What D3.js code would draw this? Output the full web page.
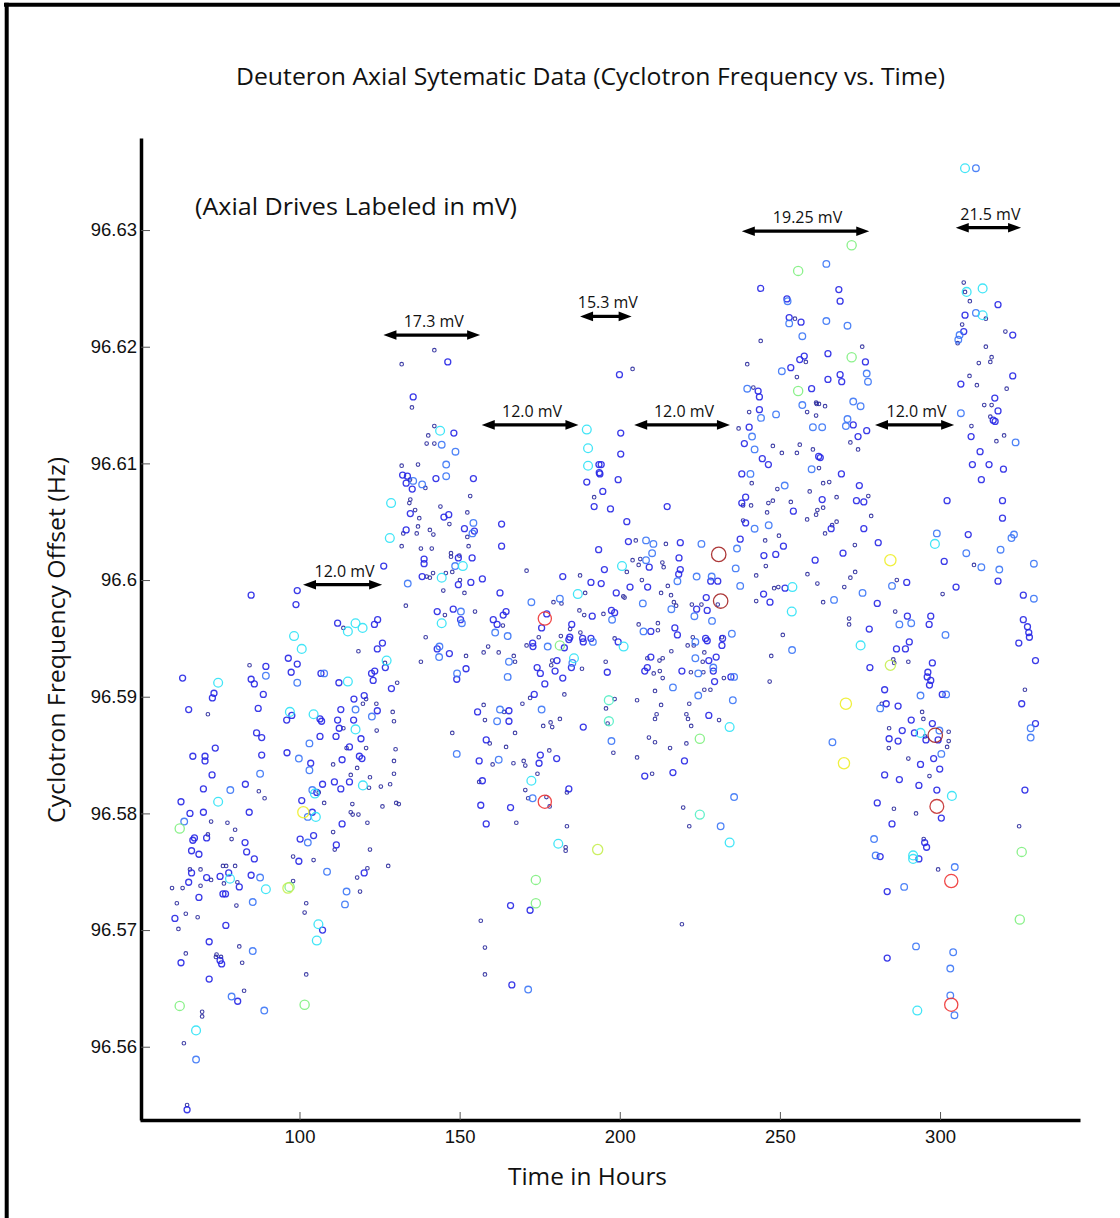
<!DOCTYPE html>
<html><head><meta charset="utf-8">
<script src="https://cdn.jsdelivr.net/npm/d3@7/dist/d3.min.js"></script>
<style>html,body{margin:0;padding:0;background:#fff;}svg{display:block;}</style>
</head><body>
<svg id="chart" width="1120" height="1218"></svg>
<script>
// ---------- text ----------
const chartTitle = "Deuteron Axial Sytematic Data (Cyclotron Frequency vs. Time)";
const subTitle = "(Axial Drives Labeled in mV)";
const xLabel = "Time in Hours";
const yLabel = "Cyclotron Frequency Offset (Hz)";

// ---------- axes ----------
const xTicks = [100, 150, 200, 250, 300];
const xTickLabels = ["100", "150", "200", "250", "300"];
const yTicks = [96.56, 96.57, 96.58, 96.59, 96.60, 96.61, 96.62, 96.63];
const yTickLabels = ["96.56", "96.57", "96.58", "96.59", "96.6", "96.61", "96.62", "96.63"];
const xDomain = [50.2, 343.7];
const yDomain = [96.55372, 96.63789];

// ---------- axial drive annotations ----------
const driveLabels = ["12.0 mV", "17.3 mV", "12.0 mV", "15.3 mV", "12.0 mV", "19.25 mV", "12.0 mV", "21.5 mV"];
const driveStart = [101.1, 126.2, 156.9, 187.6, 204.5, 238.1, 279.7, 304.9];
const driveEnd = [125.8, 156.4, 187.1, 203.7, 234.4, 277.9, 304.4, 325.3];
const driveLevel = [96.5996, 96.6210, 96.6133, 96.6226, 96.6133, 96.6299, 96.6133, 96.6302];

// ---------- data: [hours, frequency (Hz)] grouped by weight level ----------
const level1Pts = [
[113.7,96.5959],[118.4,96.5939],[84.4,96.5927],[71.4,96.5885],[113.7,96.5873],[120.8,96.5898],[124.1,96.5871],[119.8,96.5894],[114.7,96.5856],[120.8,96.5856],[110.5,96.5842],[118.0,96.5839],[116.0,96.5833],[122.0,96.5831],[87.3,96.5819],[89.1,96.5813],[72.4,96.5793],[77.5,96.5792],[79.9,96.5786],[71.4,96.5782],[78.8,96.5778],[65.8,96.5752],[69.1,96.5752],[60.2,96.5736],[63.5,96.5736],[69.1,96.5738],[72.4,96.5743],[76.1,96.5755],[77.1,96.5755],[79.9,96.5755],[76.4,96.5740],[80.6,96.5741],[80.3,96.5721],[61.7,96.5723],[64.5,96.5714],[68.2,96.5711],[62.2,96.5701],[64.5,96.5680],[74.1,96.5679],[75.5,96.5677],[73.9,96.5677],[81.2,96.5686],[82.1,96.5672],[82.7,96.5648],[69.6,96.5630],[69.6,96.5626],[63.9,96.5603],[64.9,96.5550],[107.7,96.5809],[106.0,96.5818],[121.7,96.5822],[116.5,96.5808],[116.0,96.5801],[116.6,96.5799],[118.4,96.5799],[121.2,96.5792],[110.5,96.5784],[111.0,96.5769],[122.0,96.5769],[98.0,96.5763],[104.4,96.5760],[121.2,96.5753],[118.0,96.5745],[98.0,96.5742],[118.9,96.5733],[102.1,96.5723],[101.6,96.5715],[102.1,96.5662],
[142.1,96.6197],[131.9,96.6185],[135.1,96.6148],[142.1,96.6132],[140.2,96.6124],[139.7,96.6117],[142.1,96.6117],[131.9,96.6098],[137.0,96.6099],[134.5,96.6086],[139.3,96.6079],[153.3,96.6072],[134.6,96.6069],[134.3,96.6066],[136.1,96.6060],[137.4,96.6053],[137.0,96.6046],[144.0,96.6063],[146.8,96.6048],[152.4,96.6058],[132.4,96.6040],[136.6,96.6040],[140.7,96.6043],[141.8,96.6039],[131.9,96.6029],[137.9,96.6027],[141.3,96.6027],[152.4,96.6037],[152.8,96.6029],[147.3,96.6023],[147.3,96.6020],[149.9,96.6021],[139.7,96.6003],[140.7,96.6002],[141.7,96.6006],[145.7,96.6006],[147.7,96.6007],[150.1,96.6000],[144.9,96.5991],[151.5,96.5989],[170.9,96.6008],[187.6,96.6004],[179.3,96.5981],[181.8,96.5980],[189.2,96.5989],[133.2,96.5978],[145.4,96.5970],[154.8,96.5973],[163.5,96.5961],[139.4,96.5951],[181.6,96.5952],[184.5,96.5958],[187.4,96.5974],[188.9,96.5970],[187.7,96.5955],[174.7,96.5951],[192.0,96.6071],
[126.7,96.5929],[130.5,96.5912],[137.9,96.5930],[152.0,96.5935],[157.5,96.5938],[158.9,96.5943],[162.2,96.5938],[166.9,96.5935],[167.3,96.5930],[170.9,96.5944],[178.6,96.5927],[178.9,96.5931],[188.2,96.5924],[172.0,96.5899],[182.7,96.5902],[124.0,96.5894],[129.1,96.5887],[129.5,96.5879],[147.7,96.5869],[157.5,96.5893],[157.9,96.5880],[163.9,96.5887],[169.6,96.5894],[167.3,96.5869],[176.1,96.5875],[178.4,96.5878],[178.9,96.5874],[181.3,96.5881],[159.4,96.5860],[164.5,96.5857],[130.0,96.5855],[129.5,96.5845],[129.5,96.5834],[160.3,96.5842],[166.8,96.5843],[170.0,96.5845],[170.5,96.5841],[178.0,96.5854],[174.3,96.5834],[125.4,96.5823],[128.3,96.5825],[125.9,96.5806],[130.2,96.5809],[131.0,96.5808],[156.1,96.5827],[170.5,96.5820],[171.4,96.5813],[177.1,96.5814],[178.1,96.5806],[183.5,96.5818],[167.7,96.5792],[183.5,96.5789],[183.1,96.5771],[183.1,96.5768],[127.7,96.5755],[156.6,96.5708],[157.9,96.5685],[157.9,96.5662],
[254.7,96.6224],[244.0,96.6205],[258.1,96.6187],[239.8,96.6185],[255.3,96.6174],[241.7,96.6165],[240.4,96.6144],[258.5,96.6144],[261.5,96.6151],[237.1,96.6130],[247.8,96.6115],[250.6,96.6109],[255.3,96.6109],[256.2,96.6116],[260.3,96.6112],[241.2,96.6083],[249.2,96.6078],[259.3,96.6076],[241.0,96.6064],[238.5,96.6064],[247.8,96.6068],[246.4,96.6066],[253.4,96.6067],[246.0,96.6058],[238.5,96.6051],[258.5,96.6052],[261.3,96.6056],[261.7,96.6060],[204.0,96.6181],[201.1,96.5986],[205.0,96.6034],[204.0,96.6017],[205.9,96.6013],[206.4,96.6018],[202.2,96.6007],[206.9,96.6000],[214.4,96.6031],[213.3,96.6015],[213.7,96.6011],[215.0,96.5995],[212.9,96.5989],[216.0,96.5987],[216.9,96.5981],[217.6,96.5978],[201.5,96.5985],[194.9,96.5971],[225.5,96.5979],[222.5,96.5979],[230.6,96.5979],[205.9,96.5962],[211.9,96.5963],[211.9,96.5957],[222.8,96.5951],[198.4,96.5950],[249.7,96.6038],[245.4,96.6034],[245.6,96.6012],[242.6,96.6004],[248.2,96.5993],[249.5,96.5994],[242.6,96.5982],[250.9,96.5953],[258.6,96.6005],[261.7,96.5997],
[231.9,96.5951],[221.2,96.5944],[223.1,96.5944],[216.1,96.5939],[208.6,96.5933],[212.4,96.5931],[213.4,96.5933],[226.4,96.5938],[225.9,96.5930],[195.6,96.5930],[210.6,96.5920],[212.5,96.5922],[213.4,96.5916],[222.2,96.5921],[226.1,96.5921],[232.5,96.5916],[247.3,96.5935],[246.8,96.5913],[211.0,96.5905],[226.4,96.5906],[228.3,96.5906],[198.4,96.5898],[195.7,96.5890],[205.4,96.5897],[212.9,96.5893],[221.7,96.5894],[196.2,96.5877],[211.5,96.5885],[211.0,96.5881],[220.8,96.5885],[221.3,96.5881],[222.3,96.5875],[231.0,96.5880],[198.0,96.5852],[205.4,96.5848],[209.1,96.5865],[211.0,96.5861],[215.7,96.5856],[220.8,96.5860],[210.1,96.5834],[219.8,96.5805],[221.7,96.5789],[219.4,96.5705],
[275.7,96.6200],[261.3,96.6152],[262.2,96.6151],[264.1,96.6149],[261.3,96.6141],[272.0,96.6118],[274.4,96.6112],[262.2,96.6096],[263.5,96.6083],[265.4,96.6084],[267.7,96.6071],[277.6,96.6072],[263.5,96.6062],[278.5,96.6055],[267.7,96.6050],[266.3,96.6047],[264.1,96.6040],[273.4,96.6030],[273.5,96.6007],[272.0,96.6002],[270.1,96.5994],[263.5,96.5981],[286.5,96.6000],[271.6,96.5967],[271.6,96.5962],[286.0,96.5973],[300.8,96.5988],[307.4,96.6255],[307.8,96.6247],[309.3,96.6239],[314.3,96.6224],[306.9,96.6219],[305.5,96.6203],[320.4,96.6213],[314.3,96.6200],[316.1,96.6191],[315.7,96.6187],[312.1,96.6186],[309.2,96.6175],[311.5,96.6167],[320.8,96.6164],[313.8,96.6150],[316.1,96.6150],[315.7,96.6140],[309.8,96.6132],[320.0,96.6124],[317.6,96.6119],[310.6,96.6013],
[285.4,96.5932],[285.7,96.5929],[290.1,96.5930],[281.8,96.5894],[294.4,96.5887],[294.8,96.5881],[284.1,96.5873],[295.3,96.5866],[302.7,96.5870],[302.7,96.5862],[302.2,96.5857],[284.0,96.5856],[290.1,96.5847],[296.7,96.5832],[285.6,96.5804],[292.5,96.5800],[294.9,96.5778],[299.4,96.5752],[326.5,96.5906],[324.7,96.5789]
];
const level2Pts = [
[84.9,96.5987],[99.3,96.5991],[98.9,96.5979],[111.9,96.5963],[123.4,96.5962],[124.4,96.5966],
[124.3,96.5941],[63.5,96.5916],[89.5,96.5926],[84.9,96.5915],[85.9,96.5911],[96.5,96.5933],[99.3,96.5928],[97.4,96.5921],[106.7,96.5920],[112.3,96.5912],[122.5,96.5920],[123.0,96.5914],[73.3,96.5903],[72.8,96.5899],[88.7,96.5902],[65.4,96.5889],[87.1,96.5890],[96.0,96.5880],[97.6,96.5884],[106.4,96.5881],[106.9,96.5879],[112.9,96.5889],[111.9,96.5880],[112.4,96.5873],[117.0,96.5898],[120.2,96.5901],[116.9,96.5880],[124.3,96.5888],[86.6,96.5869],[88.2,96.5865],[73.7,96.5856],[66.7,96.5849],[70.5,96.5849],[70.5,96.5845],[88.2,96.5850],[106.4,96.5866],[111.4,96.5866],[115.6,96.5857],[119.2,96.5864],[96.1,96.5852],[103.5,96.5843],[113.3,96.5846],[118.7,96.5849],[119.5,96.5847],[72.7,96.5833],[70.0,96.5821],[83.1,96.5825],[63.0,96.5810],[65.8,96.5800],[70.0,96.5801],[84.3,96.5801],[67.2,96.5779],[66.7,96.5777],[71.0,96.5779],[83.0,96.5775],[66.3,96.5768],[68.6,96.5765],[83.5,96.5767],[85.9,96.5761],[66.3,96.5749],[65.4,96.5741],[68.6,96.5728],[71.0,96.5745],[75.2,96.5746],[77.9,96.5749],[81.2,96.5737],[76.1,96.5731],[76.9,96.5731],[84.9,96.5747],[61.1,96.5710],[77.0,96.5704],[71.8,96.5690],[63.0,96.5672],[75.2,96.5674],[75.7,96.5671],[71.8,96.5658],[80.7,96.5639],[64.9,96.5546],[104.0,96.5801],[100.7,96.5811],[105.4,96.5818],[107.2,96.5825],[110.9,96.5827],[115.6,96.5827],[112.9,96.5821],[113.3,96.5791],[100.2,96.5778],[104.4,96.5781],[111.5,96.5773],[99.8,96.5759],[120.2,96.5749],[107.2,96.5700],
[146.3,96.6187],[135.5,96.6157],[148.2,96.6126],[132.2,96.6090],[133.7,96.6089],[133.3,96.6083],[135.2,96.6078],[142.6,96.6087],[154.3,96.6087],[134.6,96.6057],[145.1,96.6054],[146.6,96.6056],[154.6,96.6042],[151.5,96.6044],[163.1,96.6048],[163.1,96.6029],[133.3,96.6043],[138.9,96.6018],[138.9,96.6014],[149.6,96.6019],[153.9,96.6019],[126.3,96.6012],[138.3,96.6003],[149.6,96.5996],[153.5,96.5998],[157.1,96.6001],[162.6,96.5989],[182.2,96.6003],[191.0,96.5998],[177.2,96.5971],[175.6,96.5959],[143.0,96.5973],[148.0,96.5975],[150.3,96.5966],[163.6,96.5970],[164.5,96.5973],[160.5,96.5966],[161.7,96.5962],[184.4,96.5951],[185.0,96.5962],[191.4,96.5969],[188.4,96.5950],[191.0,96.5950],[189.7,96.6084],[192.0,96.6063],[193.5,96.6099],[193.6,96.6092],[193.4,96.6026],
[125.9,96.5946],[126.8,96.5925],[123.5,96.5922],[128.7,96.5907],[143.0,96.5941],[146.8,96.5937],[149.1,96.5915],[152.0,96.5924],[172.8,96.5946],[172.9,96.5943],[184.1,96.5949],[182.7,96.5942],[188.6,96.5947],[174.2,96.5925],[175.2,96.5920],[180.4,96.5931],[179.8,96.5922],[182.2,96.5916],[184.9,96.5925],[176.6,96.5911],[173.3,96.5902],[155.6,96.5887],[165.4,96.5888],[165.4,96.5879],[188.6,96.5874],[158.3,96.5863],[156.1,96.5845],[175.2,96.5850],[174.8,96.5843],[180.3,96.5847],[157.1,96.5828],[156.6,96.5807],[165.9,96.5805],[184.1,96.5821],[158.3,96.5791],[165.9,96.5721],[172.0,96.5717],[166.3,96.5653],
[244.0,96.6250],[252.2,96.6241],[252.9,96.6225],[256.6,96.6221],[257.6,96.6192],[256.2,96.6189],[253.4,96.6182],[259.9,96.6164],[243.2,96.6162],[243.6,96.6157],[243.6,96.6146],[240.4,96.6131],[238.9,96.6117],[262.1,96.6106],[244.5,96.6104],[246.4,96.6099],[238.1,96.6091],[239.3,96.6071],[238.1,96.6066],[254.2,96.6059],[239.3,96.6049],[199.9,96.6176],[200.3,96.6126],[200.3,96.6108],[194.2,96.6099],[193.8,96.6091],[199.5,96.6086],[194.7,96.6076],[197.1,96.6061],[202.2,96.6050],[214.8,96.6063],[195.2,96.6009],[194.2,96.5997],[198.9,96.5989],[202.7,96.6033],[209.2,96.6011],[203.2,96.5994],[208.7,96.5994],[218.9,96.6032],[218.5,96.6019],[218.9,96.6009],[218.4,96.6005],[197.4,96.5974],[198.4,96.5972],[228.4,96.5999],[230.6,96.5999],[227.0,96.5985],[224.0,96.5975],[227.3,96.5974],[237.6,96.6035],[209.7,96.5956],[217.2,96.5959],[218.0,96.5953],[226.8,96.5950],[232.1,96.5950],[245.0,96.6021],[248.7,96.6022],[251.1,96.6029],[244.9,96.5988],[246.9,96.5981],[251.6,96.5993],[261.0,96.6017],
[199.5,96.5947],[227.3,96.5948],[231.9,96.5944],[209.7,96.5934],[227.8,96.5931],[230.1,96.5934],[229.2,96.5922],[196.1,96.5921],[208.6,96.5925],[207.8,96.5922],[219.4,96.5922],[229.6,96.5913],[234.7,96.5917],[227.8,96.5884],[220.2,96.5845],[207.8,96.5832],[216.6,96.5835],
[268.4,96.6249],[268.8,96.6239],[265.0,96.6194],[276.7,96.6187],[265.0,96.6172],[268.8,96.6176],[269.3,96.6170],[272.9,96.6133],[274.4,96.6123],[277.1,96.6128],[262.6,96.6105],[269.2,96.6091],[274.8,96.6081],[263.2,96.6069],[273.9,96.6068],[276.2,96.6067],[266.0,96.6044],[276.2,96.6044],[280.7,96.6032],[269.7,96.6023],[280.4,96.5980],[289.6,96.5998],[277.9,96.5958],[289.8,96.5969],[297.1,96.5969],[296.6,96.5962],[302.2,96.6068],[301.3,96.6016],[305.0,96.5994],[318.1,96.6236],[307.8,96.6227],[307.4,96.6213],[322.7,96.6210],[306.5,96.6168],[322.7,96.6175],[317.1,96.6156],[318.1,96.6145],[316.6,96.6137],[317.2,96.6136],[309.7,96.6123],[312.5,96.6110],[310.1,96.6099],[315.3,96.6099],[319.8,96.6095],[312.9,96.6086],[319.5,96.6068],[319.5,96.6053],[308.8,96.6039],[318.1,96.5999],[326.0,96.5987],[326.0,96.5966],[327.3,96.5960],[327.7,96.5955],[327.9,96.5951],
[286.4,96.5941],[289.2,96.5941],[290.4,96.5947],[297.6,96.5929],[278.1,96.5925],[296.2,96.5921],[296.0,96.5917],[297.1,96.5914],[296.7,96.5910],[300.7,96.5902],[282.7,96.5906],[283.2,96.5894],[286.9,96.5892],[291.0,96.5880],[297.6,96.5877],[288.2,96.5871],[292.0,96.5869],[295.6,96.5863],[299.4,96.5863],[284.1,96.5864],[286.9,96.5862],[293.9,96.5842],[298.0,96.5847],[299.9,96.5838],[282.7,96.5833],[287.3,96.5829],[293.4,96.5824],[299.0,96.5820],[300.4,96.5796],[280.4,96.5809],[285.0,96.5791],[295.2,96.5775],[295.8,96.5771],[281.3,96.5763],[293.4,96.5761],[283.5,96.5733],[283.5,96.5676],[324.6,96.5946],[329.8,96.5931],[325.5,96.5894],[329.8,96.5877],[326.5,96.5820]
];
const level3Pts = [
[89.5,96.5918],[99.3,96.5912],[107.7,96.5920],[117.5,96.5889],[122.6,96.5883],[103.1,96.5860],[99.8,96.5847],[103.1,96.5837],[87.7,96.5834],[78.4,96.5820],[64.0,96.5793],[87.7,96.5745],[85.4,96.5724],[85.4,96.5682],[78.8,96.5643],[89.0,96.5631],[67.7,96.5589],[102.6,96.5797],[104.0,96.5820],[102.6,96.5775],[108.6,96.5750],[114.7,96.5733],[114.2,96.5722],
[144.4,96.6116],[148.7,96.6110],[145.8,96.6099],[135.5,96.6085],[138.3,96.6082],[145.8,96.6089],[154.3,96.6049],[154.0,96.6040],[148.6,96.6012],[133.8,96.5997],[172.4,96.5981],[181.3,96.5984],[150.4,96.5973],[150.7,96.5963],[161.1,96.5955],[165.0,96.5952],
[143.7,96.5943],[143.6,96.5934],[149.2,96.5920],[165.4,96.5930],[165.0,96.5917],[177.5,96.5943],[191.6,96.5947],[185.2,96.5929],[162.6,96.5889],[161.7,96.5879],[175.6,96.5889],[149.1,96.5851],[162.2,96.5846],[172.8,96.5813],[171.4,96.5649],
[252.4,96.6239],[252.9,96.6220],[257.0,96.6209],[250.6,96.6179],[239.8,96.6164],[244.1,96.6139],[248.8,96.6142],[257.0,96.6150],[260.3,96.6131],[241.3,96.6123],[242.1,96.6112],[240.8,96.6091],[251.5,96.6081],[259.9,96.6095],[242.1,96.6044],[246.5,96.6047],[208.2,96.6034],[210.5,96.6031],[210.1,96.6023],[208.2,96.6017],[218.0,96.5999],[216.1,96.5975],[207.2,96.5980],[197.6,96.5966],[225.5,96.6031],[224.0,96.6003],[228.7,96.6003],[223.3,96.5969],[228.8,96.5965],[236.2,96.6010],[236.6,96.6027],[237.6,96.5995],[235.0,96.5954],[207.4,96.5956],
[223.6,96.5947],[223.6,96.5933],[229.2,96.5925],[224.5,96.5920],[235.7,96.5917],[253.8,96.5940],[216.6,96.5908],[224.5,96.5901],[235.3,96.5897],[197.4,96.5862],[235.7,96.5814],[231.5,96.5789],
[311.2,96.6353],[264.5,96.6271],[264.5,96.6222],[271.1,96.6218],[277.1,96.6177],[277.5,96.6170],[272.9,96.6153],[275.2,96.6149],[271.1,96.6138],[270.6,96.6132],[263.2,96.6131],[275.8,96.5989],[266.9,96.5983],[285.0,96.5995],[287.3,96.5962],[291.0,96.5963],[301.7,96.5953],[299.0,96.6040],[311.2,96.6229],[306.1,96.6210],[305.7,96.6206],[306.5,96.6143],[323.6,96.6118],[308.2,96.6023],[312.9,96.6011],[318.9,96.6026],[322.3,96.6036],[323.1,96.6039],[318.5,96.6009],[329.3,96.6014],[329.3,96.5984],
[293.9,96.5901],[301.9,96.5902],[281.3,96.5890],[299.8,96.5871],[266.4,96.5861],[300.4,96.5851],[279.4,96.5778],[279.9,96.5764],[304.6,96.5754],[288.8,96.5737],[292.5,96.5686],[304.1,96.5681],[303.2,96.5667],[303.2,96.5644],[304.5,96.5627],[328.3,96.5873],[328.3,96.5865]
];
const level4Pts = [
[98.3,96.5952],[115.1,96.5956],[117.5,96.5963],[119.7,96.5959],[100.7,96.5941],[74.6,96.5912],[115.1,96.5913],[97.0,96.5887],[104.4,96.5885],[117.5,96.5872],[74.6,96.5810],[78.3,96.5744],[89.5,96.5735],[67.7,96.5614],[105.1,96.5797],[104.8,96.5817],[119.8,96.5824],[105.9,96.5705],[105.4,96.5691],
[143.9,96.6128],[128.6,96.6066],[128.2,96.6036],[151.0,96.6012],[144.4,96.6002],[186.9,96.5988],[144.4,96.5963],[189.7,96.6129],[190.1,96.6113],[190.1,96.6098],
[127.2,96.5931],[185.7,96.5933],[172.4,96.5828],[180.8,96.5774],
[200.7,96.6012],[253.9,96.5994],[253.7,96.5973],[201.2,96.5943],[234.3,96.5874],[234.3,96.5775],
[307.8,96.6353],[298.4,96.6031],[308.3,96.6247],[313.3,96.6250],[313.3,96.6227],
[275.2,96.5944],[293.9,96.5869],[303.7,96.5815],[291.6,96.5764],[291.6,96.5761],[292.9,96.5631]
];
const aquaPts = [[196.6,96.5897],[196.6,96.5879],[225.0,96.5799]];
const greenPts = [[62.6,96.5787],[96.9,96.5737],[62.6,96.5635],[101.6,96.5636],[181.3,96.5944],[173.8,96.5743],[173.8,96.5723],[255.7,96.6265],[255.7,96.6162],[225.0,96.5864],[272.4,96.6287],[272.4,96.6191],[325.5,96.5767],[324.9,96.5709]];
const limePts = [[96.4,96.5736],[193.1,96.5769],[284.5,96.5927]];
const yellowPts = [[101.2,96.5801],[284.5,96.6017],[270.6,96.5894],[270.0,96.5843]];
const redPts = [[176.6,96.5967],[176.6,96.5810],[303.5,96.5742],[303.5,96.5636]];
const brickPts = [[299.0,96.5806]];
const darkRedPts = [[230.9,96.6022],[231.5,96.5982],[298.5,96.5867]];

const seriesList = [
  {pts: level1Pts, level: 1}, {pts: level2Pts, level: 2}, {pts: level3Pts, level: 3},
  {pts: level4Pts, level: 4}, {pts: aquaPts, level: 4.5}, {pts: greenPts, level: 5},
  {pts: limePts, level: 5.5}, {pts: yellowPts, level: 6}, {pts: redPts, level: 7},
  {pts: brickPts, level: 7.5}, {pts: darkRedPts, level: 8}
];

// ---------- drawing ----------
const svg = d3.select("#chart");
const W = 1120, H = 1218;
const plot = {left: 140, right: 1080, top: 138, bottom: 1120};

const x = d3.scaleLinear().domain(xDomain).range([plot.left, plot.right]);
const y = d3.scaleLinear().domain(yDomain).range([plot.bottom, plot.top]);

const colorScale = d3.scaleLinear()
  .domain([1, 2, 3, 4, 4.5, 5, 5.5, 6, 7, 7.5, 8])
  .range(["#2a2a9c", "#2626e6", "#3b76f6", "#2ee2f6", "#52eec4", "#7ef07e", "#c6ee52", "#eeee2a", "#ee3434", "#c43030", "#a42424"]);
const radiusScale = d3.scaleLinear()
  .domain([1, 2, 3, 4, 5, 6, 7, 8])
  .range([1.8, 3.0, 3.3, 4.4, 4.6, 5.6, 6.6, 7.2]);

// outer frame (top and left)
svg.append("line").attr("x1", 4).attr("x2", W).attr("y1", 4.7).attr("y2", 4.7)
  .attr("stroke", "#000").attr("stroke-width", 4);
svg.append("line").attr("x1", 6.7).attr("x2", 6.7).attr("y1", 2.7).attr("y2", H)
  .attr("stroke", "#000").attr("stroke-width", 4);

// points
const gPts = svg.append("g");
seriesList.forEach(s => {
  gPts.append("g").selectAll("circle").data(s.pts).join("circle")
    .attr("cx", d => x(d[0])).attr("cy", d => y(d[1]))
    .attr("r", radiusScale(s.level))
    .attr("fill", "none")
    .attr("stroke", colorScale(s.level))
    .attr("stroke-width", s.level === 1 ? 1.1 : 1.3)
    .attr("stroke-opacity", 0.9);
});

// axes
const xAxis = d3.axisBottom(x).tickValues(xTicks).tickFormat((d, i) => xTickLabels[i])
  .tickSizeInner(-8).tickSizeOuter(0).tickPadding(10);
const gx = svg.append("g").attr("transform", `translate(0,${plot.bottom})`).call(xAxis);
gx.select(".domain").attr("stroke", "#000").attr("stroke-width", 3.5);
gx.selectAll(".tick line").attr("stroke", "#555").attr("stroke-width", 1);
gx.selectAll(".tick text").attr("font-family", "'Liberation Sans', Arial, sans-serif")
  .attr("font-size", 18.5).attr("fill", "#111");

const yAxis = d3.axisLeft(y).tickValues(yTicks).tickFormat((d, i) => yTickLabels[i])
  .tickSizeInner(-9).tickSizeOuter(0).tickPadding(4);
const gy = svg.append("g").attr("transform", `translate(${plot.left + 1},0)`).call(yAxis);
gy.select(".domain").attr("stroke", "#000").attr("stroke-width", 3.5);
gy.selectAll(".tick line").attr("stroke", "#555").attr("stroke-width", 1);
gy.selectAll(".tick text").attr("font-family", "'Liberation Sans', Arial, sans-serif")
  .attr("font-size", 18.5).attr("fill", "#111");

// drive annotations
const headL = 13, headW = 4.8;
driveLabels.forEach((lab, i) => {
  const x0 = x(driveStart[i]), x1 = x(driveEnd[i]), yy = y(driveLevel[i]);
  const g = svg.append("g");
  g.append("line").attr("x1", x0 + headL - 1).attr("x2", x1 - headL + 1)
    .attr("y1", yy).attr("y2", yy).attr("stroke", "#000").attr("stroke-width", 3.2);
  g.append("path").attr("d", `M${x0},${yy} L${x0 + headL},${yy - headW} L${x0 + headL},${yy + headW} Z`).attr("fill", "#000");
  g.append("path").attr("d", `M${x1},${yy} L${x1 - headL},${yy - headW} L${x1 - headL},${yy + headW} Z`).attr("fill", "#000");
  g.append("text").attr("x", (x0 + x1) / 2 + 2).attr("y", yy - 8)
    .attr("text-anchor", "middle").attr("font-family", "'Open Sans', 'Noto Sans', sans-serif")
    .attr("font-size", 16).attr("fill", "#111").text(lab);
});

// titles
const fontMain = "'Open Sans', 'Noto Sans', sans-serif";
svg.append("text").attr("x", 236).attr("y", 84.5).attr("font-family", fontMain)
  .attr("font-size", 23).attr("fill", "#111")
  .attr("textLength", 709).attr("lengthAdjust", "spacingAndGlyphs").text(chartTitle);
svg.append("text").attr("x", 195).attr("y", 214.5).attr("font-family", fontMain)
  .attr("font-size", 23).attr("fill", "#111")
  .attr("textLength", 322).attr("lengthAdjust", "spacingAndGlyphs").text(subTitle);
svg.append("text").attr("x", 508).attr("y", 1185).attr("font-family", fontMain)
  .attr("font-size", 23).attr("fill", "#111")
  .attr("textLength", 159).attr("lengthAdjust", "spacingAndGlyphs").text(xLabel);
svg.append("text").attr("transform", "translate(65,823) rotate(-90)").attr("x", 0).attr("y", 0)
  .attr("font-family", fontMain).attr("font-size", 23).attr("fill", "#111")
  .attr("textLength", 366).attr("lengthAdjust", "spacingAndGlyphs").text(yLabel);
</script>
</body></html>
